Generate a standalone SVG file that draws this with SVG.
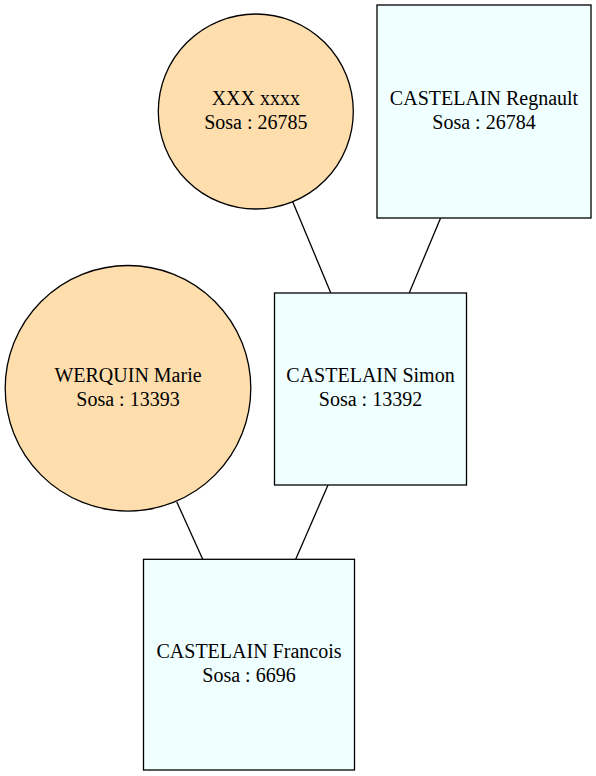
<svg xmlns="http://www.w3.org/2000/svg" width="596" height="776" viewBox="0 0 596 776">
<style>
.f{fill:#ffdead;stroke:#000;stroke-width:1.3}
.m{fill:#f0ffff;stroke:#000;stroke-width:1.3}
.e{stroke:#000;stroke-width:1.3;fill:none}
text{font-family:"Liberation Serif","Times New Roman",serif;font-size:20px;text-anchor:middle;fill:#000}
</style>
<rect width="596" height="776" fill="#fff"/>
<g id="connectors">
<line class="e" x1="292.7" y1="201.7" x2="330.7" y2="292.7"/>
<line class="e" x1="440.5" y1="218.3" x2="409.3" y2="292.7"/>
<line class="e" x1="176.7" y1="501.7" x2="202.7" y2="559.3"/>
<line class="e" x1="328" y1="485" x2="295.7" y2="559.3"/>
</g>
<g id="n26785">
<circle class="f" cx="255.8" cy="111.5" r="97.5"/>
<text x="255.8" y="105">XXX xxxx</text>
<text x="255.8" y="129">Sosa : 26785</text>
</g>
<g id="n26784">
<rect class="m" x="377" y="5" width="214" height="213"/>
<text x="484" y="105">CASTELAIN Regnault</text>
<text x="484" y="129">Sosa : 26784</text>
</g>
<g id="n13393">
<circle class="f" cx="128" cy="388.3" r="122.8"/>
<text x="128" y="381.7">WERQUIN Marie</text>
<text x="128" y="405.7">Sosa : 13393</text>
</g>
<g id="n13392">
<rect class="m" x="274.5" y="293" width="192" height="192"/>
<text x="370.5" y="382.3">CASTELAIN Simon</text>
<text x="370.5" y="405.5">Sosa : 13392</text>
</g>
<g id="n6696">
<rect class="m" x="143.5" y="559.3" width="211" height="210.7"/>
<text x="249" y="658.3">CASTELAIN Francois</text>
<text x="249" y="681.5">Sosa : 6696</text>
</g>
</svg>
